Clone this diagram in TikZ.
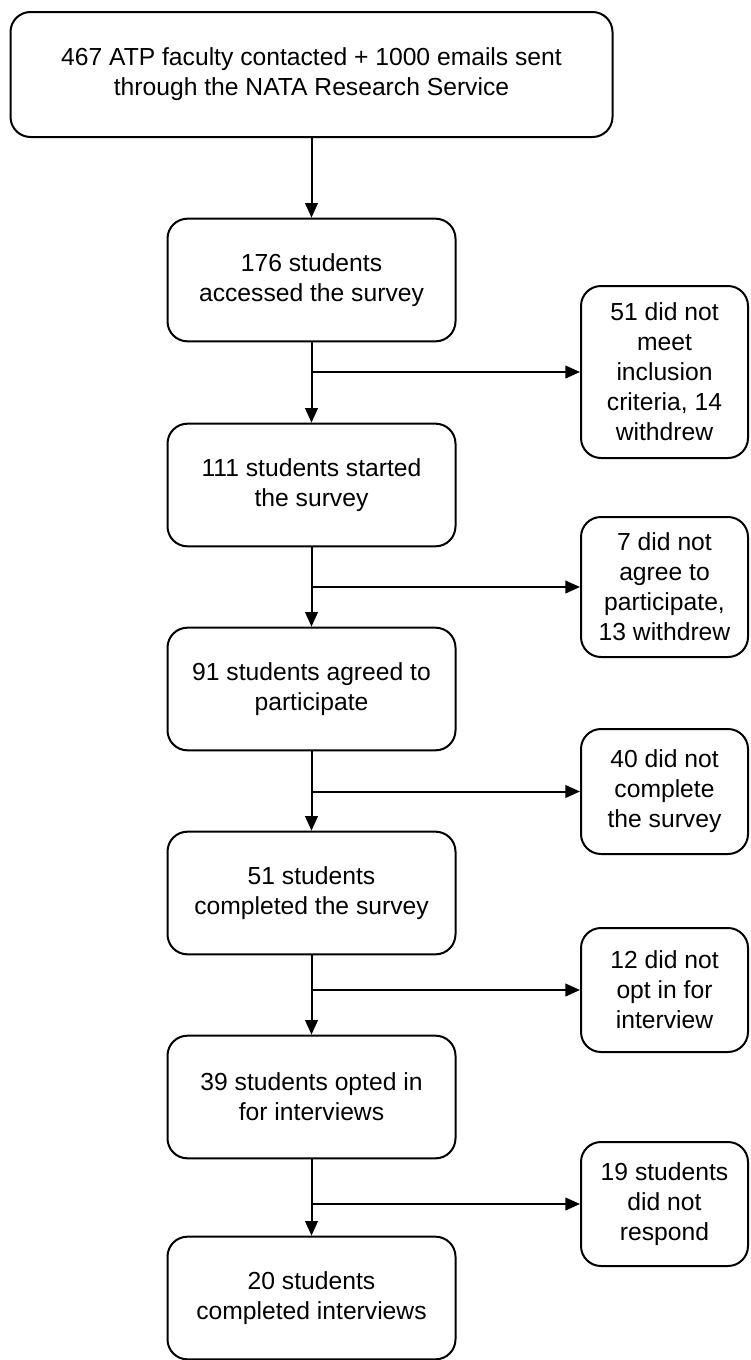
\documentclass[tikz,border=0pt]{standalone}
\usepackage{fontspec}
\setmainfont{Liberation Sans}
\usetikzlibrary{arrows.meta}
\begin{document}
\begin{tikzpicture}[x=0.75pt,y=-0.75pt,
  box/.style={draw, line width=1.5pt, rounded corners=15pt, align=center, inner sep=0pt,
    font=\fontsize{18.5}{22.5}\selectfont},
  mainbox/.style={box, minimum width=216pt, minimum height=92pt},
  sidebox/.style={box, minimum width=125.25pt},
  arr/.style={line width=1.5pt, -{Triangle[length=11pt,width=9.5pt]}}]
\useasboundingbox (0,0) rectangle (750,1360);

\node[box, minimum width=451.5pt, minimum height=93.75pt] (n0) at (311.5,74.5)
  {467 ATP faculty contacted + 1000 emails sent\\through the NATA Research Service};
\node[mainbox] (n1) at (311.5,280) {176 students\\accessed the survey};
\node[mainbox] (n2) at (311.5,485) {111 students started\\the survey};
\node[mainbox] (n3) at (311.5,689) {91 students agreed to\\participate};
\node[mainbox] (n4) at (311.5,893) {51 students\\completed the survey};
\node[mainbox] (n5) at (311.5,1097) {39 students opted in\\for interviews};
\node[mainbox] (n6) at (311.5,1298) {20 students\\completed interviews};

\node[sidebox, minimum height=129pt] (s1) at (664.5,372) {51 did not\\meet\\inclusion\\criteria, 14\\withdrew};
\node[sidebox, minimum height=105pt] (s2) at (664.5,587) {7 did not\\agree to\\participate,\\13 withdrew};
\node[sidebox, minimum height=93.75pt] (s3) at (664.5,791.5) {40 did not\\complete\\the survey};
\node[sidebox, minimum height=93pt] (s4) at (664.5,990) {12 did not\\opt in for\\interview};
\node[sidebox, minimum height=93pt] (s5) at (664.5,1204) {19 students\\did not\\respond};

\coordinate (b1) at (311.5,372);
\coordinate (b2) at (311.5,587);
\coordinate (b3) at (311.5,791.5);
\coordinate (b4) at (311.5,990);
\coordinate (b5) at (311.5,1204);

\draw[arr] (n0.south) -- (n1.north);
\draw[arr] (n1.south) -- (n2.north);
\draw[arr] (n2.south) -- (n3.north);
\draw[arr] (n3.south) -- (n4.north);
\draw[arr] (n4.south) -- (n5.north);
\draw[arr] (n5.south) -- (n6.north);

\draw[arr] (b1) -- (s1.west);
\draw[arr] (b2) -- (s2.west);
\draw[arr] (b3) -- (s3.west);
\draw[arr] (b4) -- (s4.west);
\draw[arr] (b5) -- (s5.west);
\end{tikzpicture}
\end{document}
